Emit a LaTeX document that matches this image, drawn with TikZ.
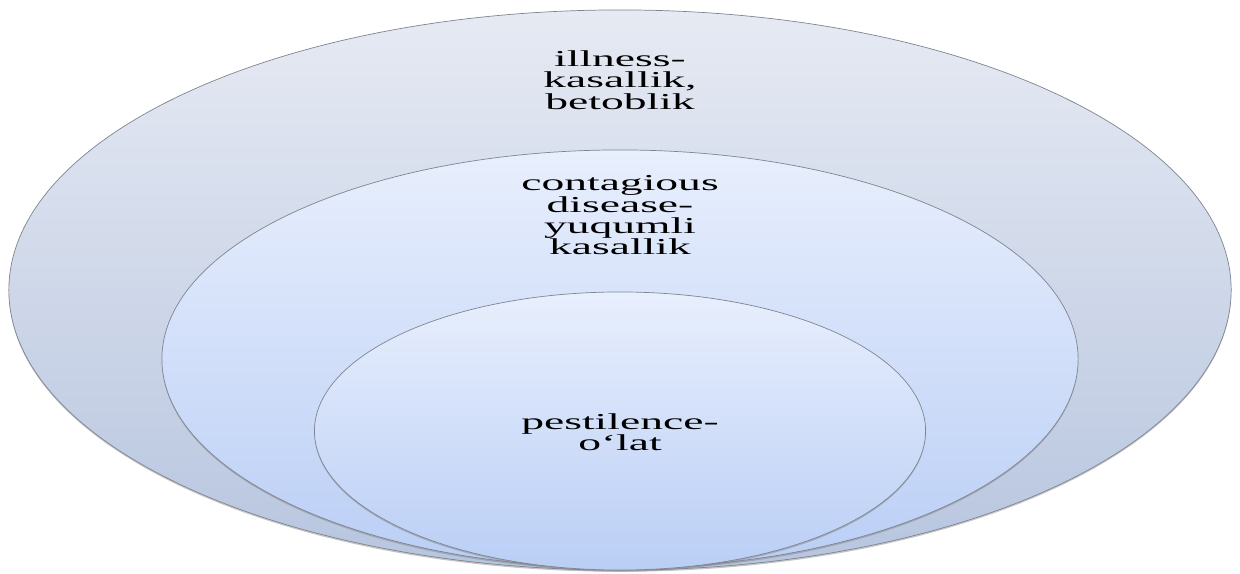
\documentclass[tikz,border=0pt]{standalone}
\usepackage{fontspec}
\setmainfont{Liberation Serif}
\newfontfamily\widefont[FakeStretch=2.0]{Liberation Serif}
\usepackage{tikz}
\usetikzlibrary{shapes.geometric, shadows}
\definecolor{outerTop}{HTML}{E6EAF3}
\definecolor{outerBot}{HTML}{B7C5DF}
\definecolor{ringTop}{HTML}{E8EFFD}
\definecolor{ringBot}{HTML}{BACEF5}
\definecolor{rim}{HTML}{7F8590}
\newcommand\termfont{\widefont\fontsize{16.2}{15.2}\selectfont\setlength{\lineskiplimit}{-20pt}}

\begin{document}
\begin{tikzpicture}[x=0.025cm, y=-0.025cm,
  ring/.style={ellipse, draw=rim, line width=0.5pt, inner sep=0pt, outer sep=0pt,
               drop shadow={shadow xshift=0pt, shadow yshift=-1.2pt, opacity=0.45}},
  term/.style={align=center, inner sep=0pt, font=\termfont},
]

\useasboundingbox (0,0) rectangle (1240,573);

\node[ring, minimum width=30.55cm, minimum height=14cm,
      top color=outerTop, bottom color=outerBot] (e1) at (620,290) {};
\node[ring, minimum width=22.9cm, minimum height=10.45cm,
      top color=ringTop, bottom color=ringBot] (e2) at (620,359) {};
\node[ring, minimum width=15.275cm, minimum height=6.95cm,
      top color=ringTop, bottom color=ringBot] (e3) at (620,431) {};

\node[term] (t1) at (620,80) {illness-\\kasallik,\\betoblik};
\node[term] (t2) at (620,215.5) {contagious\\disease-\\yuqumli\\kasallik};
\node[term] (t3) at (620,432) {pestilence-\\o‘lat};

\end{tikzpicture}
\end{document}
